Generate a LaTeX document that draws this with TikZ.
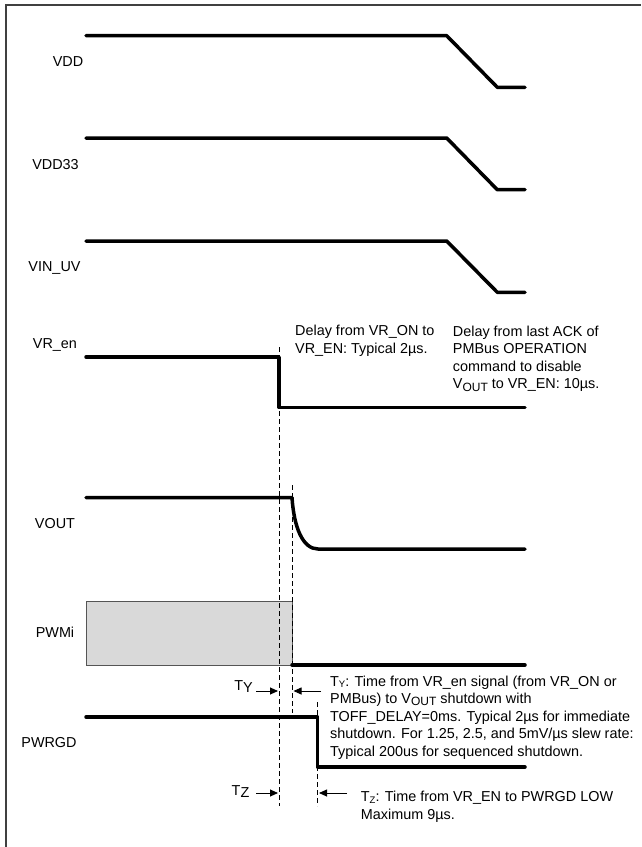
\documentclass[tikz,border=0pt]{standalone}
\usepackage{fontspec}
\setmainfont{Liberation Sans}
\usetikzlibrary{arrows.meta}
\definecolor{framegray}{HTML}{404040}
\definecolor{pwmfill}{HTML}{D9D9D9}
\definecolor{pwmedge}{HTML}{555555}
\newcommand{\lowtxt}[1]{\raisebox{-0.3ex}{\fontsize{12}{12}\selectfont #1}}
\newcommand{\subtxt}[1]{\raisebox{-0.2ex}{\fontsize{9.5}{10}\selectfont #1}}
\tikzset{
	wave/.style={line width=3.5pt, line cap=round, line join=round},
	dashline/.style={line width=0.9pt, dash pattern=on 5pt off 3pt},
	siglbl/.style={anchor=base, inner sep=0pt, font=\fontsize{14.4}{17.6}\selectfont},
	note/.style={anchor=base west, align=left, inner sep=0pt, font=\fontsize{14.4}{17.6}\selectfont},
	tarr/.style={-{Triangle[length=8pt, width=7pt]}, line width=0.9pt},
	pwmbox/.style={draw=pwmedge, fill=pwmfill, line width=0.8pt},
	frameline/.style={draw=framegray, line width=2pt}
}

\begin{document}
\begin{tikzpicture}[x=1pt, y=-1pt]
	\useasboundingbox (0,0) rectangle (641,847);
	\draw[frameline] (5.7,847) -- (5.7,5) -- (641,5);

	% signal names
	\node[siglbl] (vdd)   at (68,66.7)   {VDD};
	\node[siglbl] (vdd33) at (55.5,169.3) {VDD33};
	\node[siglbl] (vinuv) at (54.5,271.7) {VIN\_UV};
	\node[siglbl] (vren)  at (55,348.3)  {VR\_en};
	\node[siglbl] (vout)  at (55,528.3)  {VOUT};
	\node[siglbl] (pwmi)  at (55,637.7)  {PWMi};
	\node[siglbl] (pwrgd) at (49,747.7)  {PWRGD};

	% waveforms
	\draw[wave] (86,35.7) -- (446.7,35.7) -- (497.3,87.3) -- (525,87.3);
	\draw[wave] (86,138) -- (446.7,138) -- (497.3,189.7) -- (525,189.7);
	\draw[wave] (86,241) -- (446.7,241) -- (497.3,292.3) -- (525,292.3);
	\draw[wave] (86,357) -- (279,357) -- (279,407.5) -- (525,407.5);
	\draw[wave] (86,497.5) -- (292,497.5) .. controls (294,528) and (303,549) .. (318,549) -- (525,549);
	\draw[pwmbox] (86,601) rectangle (292,665);
	\draw[wave] (292,665) -- (525,665);
	\draw[wave] (86,717) -- (317.5,717) -- (317.5,767) -- (525,767);

	% timing marks
	\coordinate (en)  at (279,0);
	\coordinate (off) at (292,0);
	\coordinate (pg)  at (317.5,0);
	\draw[dashline] (279,347) -- (279,806);
	\draw[dashline] (292,485) -- (292,713);
	\draw[dashline] (317.5,702) -- (317.5,806);

	\node[inner sep=0pt, font=\fontsize{14.4}{17.6}\selectfont] (tyl) at (243.5,687) {T\raisebox{-2pt}{Y}};
	\node[inner sep=0pt, font=\fontsize{14.4}{17.6}\selectfont] (tzl) at (240.5,792) {T\raisebox{-2pt}{Z}};
	\coordinate (ty1) at (256,691);
	\coordinate (ty2) at (321,691);
	\coordinate (tz1) at (256,793);
	\coordinate (tz2) at (347,793);
	\draw[tarr] (ty1) -- ([xshift=-1pt]ty1 -| en);
	\draw[tarr] (ty2) -- ([xshift=1.5pt]ty2 -| off);
	\draw[tarr] (tz1) -- ([xshift=-1pt]tz1 -| en);
	\draw[tarr] (tz2) -- ([xshift=1.5pt]tz2 -| pg);

	% notes (anchored at the baseline of their last line)
	\node[note] (dly1) at (295,353.3) {Delay from VR\_ON to\\VR\_EN: Typical 2µs.};
	\node[note] (dly2) at (452.7,388.8) {Delay from last ACK of\\PMBus OPERATION\\command to disable\\V\lowtxt{OUT} to VR\_EN: 10µs.};
	\node[note] (tyn) at (330,756.4) {T\subtxt{Y}: Time from VR\_en signal (from VR\_ON or\\PMBus) to V\lowtxt{OUT} shutdown with\\TOFF\_DELAY=0ms. Typical 2µs for immediate\\shutdown. For 1.25, 2.5, and 5mV/µs slew rate:\\Typical 200us for sequenced shutdown.};
	\node[note] (tzn) at (360.7,819.3) {T\subtxt{Z}: Time from VR\_EN to PWRGD LOW\\Maximum 9µs.};
\end{tikzpicture}
\end{document}
